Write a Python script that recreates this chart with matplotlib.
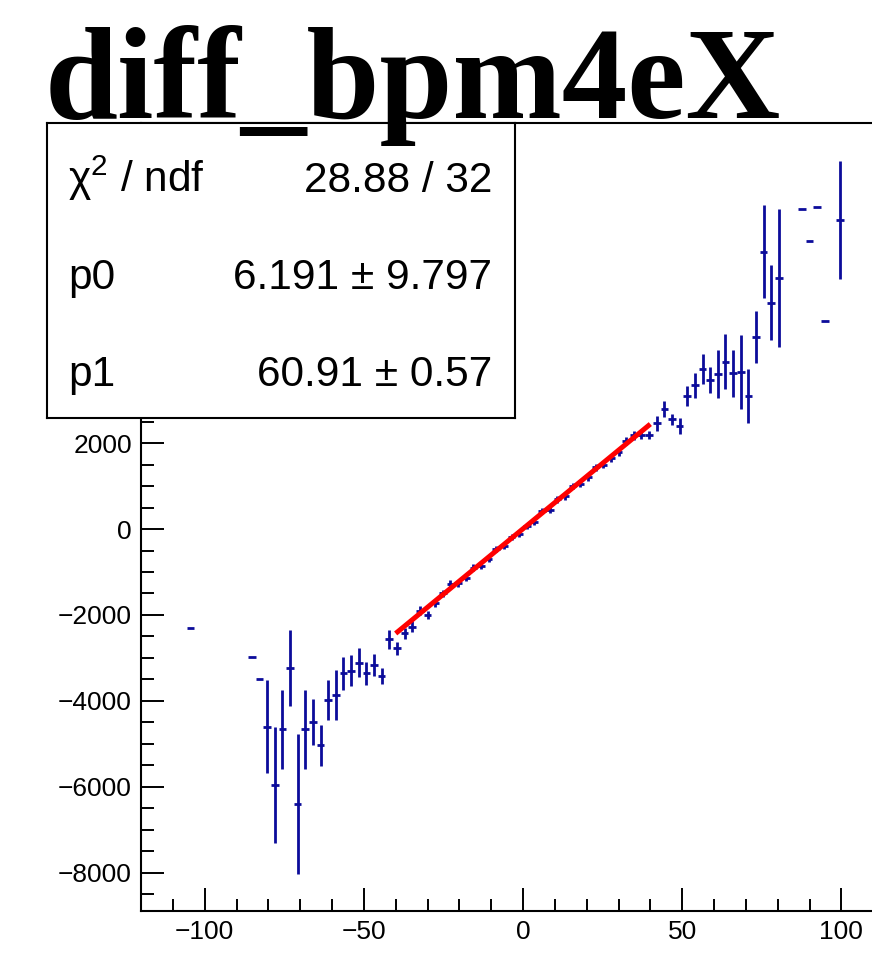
import matplotlib.pyplot as plt
import numpy as np

plt.rcParams['font.family'] = ['Liberation Sans', 'DejaVu Sans']
plt.rcParams['mathtext.fontset'] = 'custom'
plt.rcParams['mathtext.rm'] = 'Liberation Sans'

# profile binning: 100 bins between -120 and 120
nbins = 100
xlo, xhi = -120, 120

# filled bins (index), mean value and error
bins = [6, 14, 15, 16, 17, 18, 19, 20, 21, 22, 23, 24, 25, 26, 27, 28, 29, 30, 31, 32,
        33, 34, 35, 36, 37, 38, 39, 40, 41, 42, 43, 44, 45, 46, 47, 48, 49, 50, 51, 52,
        53, 54, 55, 56, 57, 58, 59, 60, 61, 62, 63, 64, 65, 66,
        67, 68, 69, 70, 71, 72, 73, 74, 75, 76, 77, 78, 79, 80, 81, 82, 83, 86, 87, 88, 89, 91]
values = [-2304, -2987, -3484, -4602, -5959, -4663, -3236, -6401, -4663, -4485,
          -5035, -3980, -3864, -3359, -3298, -3112, -3359, -3166, -3422, -2568,
          -2777, -2430, -2270, -1900, -2000, -1730, -1500, -1270, -1260, -1140,
          -900, -850, -700, -470, -400, -180, -120, 60, 160, 420,
          450, 690, 760, 1000, 1050, 1200, 1440, 1500, 1650, 1800, 2050, 2180, 2200, 2190,
          2460, 2786, 2553, 2398, 3096, 3352, 3717, 3468, 3608, 3894, 3624, 3662, 3096,
          4462, 6455, 5268, 5836, 7442, 6704, 7503, 4835, 7193]
errors = [0, 0, 0, 1086, 1358, 923, 884, 1625, 912, 531,
          481, 458, 574, 388, 361, 338, 260, 260, 194, 213,
          155, 130, 120, 110, 100, 95, 90, 85, 80, 80,
          75, 75, 70, 70, 70, 70, 70, 70, 70, 70,
          70, 75, 75, 75, 80, 80, 85, 85, 90, 95, 100, 110, 110, 100,
          175, 186, 128, 194, 240, 291, 349, 310, 551, 640, 551, 861, 628,
          609, 1075, 880, 1606, 0, 0, 0, 0, 1381]

title = 'diff_bpm4eX'
chi2_ndf = '28.88 / 32'
p0, p0_err = 6.191, 9.797
p1, p1_err = 60.91, 0.57
fit_lo, fit_hi = -40, 40

blue = '#0c0c9a'
W, H = 872, 966

width = (xhi - xlo) / nbins
x = xlo + width * (np.array(bins) + 0.5)

fig = plt.figure(figsize=(W / 100, H / 100), dpi=100)
ax = fig.add_axes([141 / W, 1 - 911 / H, (905 - 141) / W, (911 - 123) / H])

ax.errorbar(x, values, xerr=width / 2, yerr=errors, fmt='none', ecolor=blue,
            elinewidth=2, capsize=0, zorder=2)
xf = np.linspace(fit_lo, fit_hi, 200)
ax.plot(xf, p0 + p1 * xf, color='red', lw=3.6, zorder=3, solid_capstyle='butt')

ax.set_xlim(xlo, xhi)
ax.set_ylim(-8890, 9450)
ax.set_xticks([-100, -50, 0, 50, 100])
ax.set_xticks(np.arange(-110, 120, 10), minor=True)
yt = np.arange(-8000, 9000, 2000)
ax.set_yticks(yt)
# labels above 2000 sit under the stats box
ax.set_yticklabels([f'{v}'.replace('-', '\u2212') if v <= 2000 else '' for v in yt])
ax.set_yticks(np.arange(-8500, 9500, 500), minor=True)
ax.tick_params(which='major', direction='in', length=16.5, width=1.4, labelsize=19, pad=6.5)
ax.tick_params(which='minor', direction='in', length=9, width=1.4)
for s in ax.spines.values():
    s.set_linewidth(1.5)

# stats box
box = fig.add_axes([47 / W, 1 - 418 / H, (515 - 47) / W, (418 - 123) / H], zorder=5)
box.set_xticks([])
box.set_yticks([])
box.set_facecolor('white')
for s in box.spines.values():
    s.set_linewidth(1.5)

fs = 30.5
rows = [('χ$^{2}$ / ndf', chi2_ndf, 192),
        ('p0', f'{p0:.3f} ± {p0_err:.3f}', 289),
        ('p1', f'{p1:.2f} ± {p1_err:.2f}', 386)]
for lab, val, yb in rows:
    fig.text(68 / W, 1 - yb / H, lab, fontsize=fs, va='baseline', ha='left', zorder=10)
    fig.text(492 / W, 1 - yb / H, val, fontsize=fs, va='baseline', ha='right', zorder=10)

fig.text(45 / W, 1 - 118 / H, title, fontfamily='Liberation Serif', fontweight='bold',
         fontsize=94.5, va='baseline', ha='left', zorder=10)

fig.savefig('out.png', dpi=100)
